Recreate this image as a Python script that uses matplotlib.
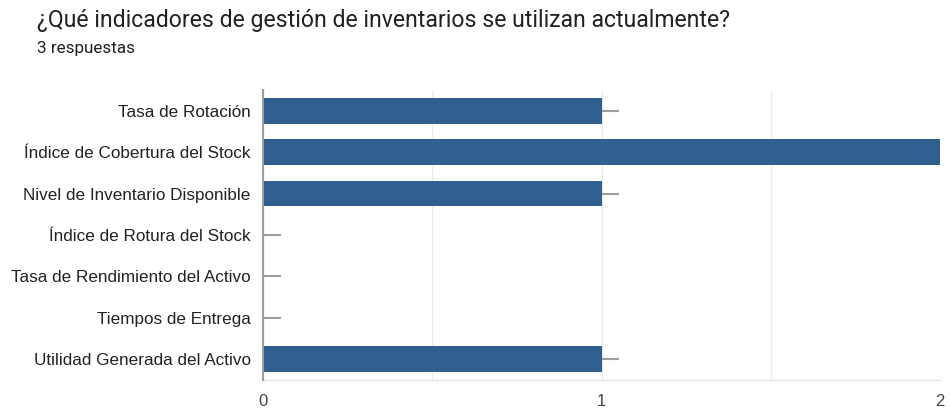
import numpy as np
import matplotlib.pyplot as plt

# datos de la encuesta
indicadores = ['Tasa de Rotación', 'Índice de Cobertura del Stock',
               'Nivel de Inventario Disponible', 'Índice de Rotura del Stock',
               'Tasa de Rendimiento del Activo', 'Tiempos de Entrega',
               'Utilidad Generada del Activo']
respuestas = [1, 2, 1, 0, 0, 0, 1]
xticks = [0, 1, 2]

plt.rcParams['font.family'] = ['Liberation Sans', 'DejaVu Sans']

fig = plt.figure(figsize=(9.5, 4.08), dpi=100)
ax = fig.add_axes([263/950, 1-380/408, (940-263)/950, (380-90)/408])

y = np.arange(len(indicadores))
ax.barh(y, respuestas, height=0.62, color='#30608f', zorder=3)

# lineas guia de las etiquetas
for yi, v in zip(y, respuestas):
    ax.plot([v, v + 0.05], [yi, yi], color='#9e9e9e', lw=1.5, zorder=2)

ax.set_ylim(len(indicadores) - 0.5, -0.5)
ax.set_xlim(0, 2)
ax.set_yticks(y)
ax.set_yticklabels(indicadores, fontsize=12.3, color='#222222')
ax.set_xticks(xticks)
ax.set_xticks([0.5, 1.5], minor=True)
ax.set_xticklabels([str(t) for t in xticks], fontsize=12, color='#444444')
ax.tick_params(axis='both', which='both', length=0, pad=9)
ax.tick_params(axis='x', pad=10)
ax.grid(axis='x', which='both', color='#ebebeb', lw=1, zorder=0)

for s in ['top', 'right']:
    ax.spines[s].set_visible(False)
ax.spines['bottom'].set_color('#e0e0e0')
ax.spines['left'].set_color('#9e9e9e')
ax.spines['left'].set_linewidth(1.5)
ax.spines['left'].set_zorder(4)

fig.text(37/950, 1-20/408, '¿Qué indicadores de gestión de inventarios se utilizan actualmente?',
         fontsize=16.6, color='#202124', va='center', ha='left',
         family=['Roboto', 'DejaVu Sans'])
fig.text(37/950, 1-48/408, '3 respuestas', fontsize=12.3, color='#202124',
         va='center', ha='left', family=['Roboto', 'DejaVu Sans'])

fig.savefig('out.png', dpi=100)
